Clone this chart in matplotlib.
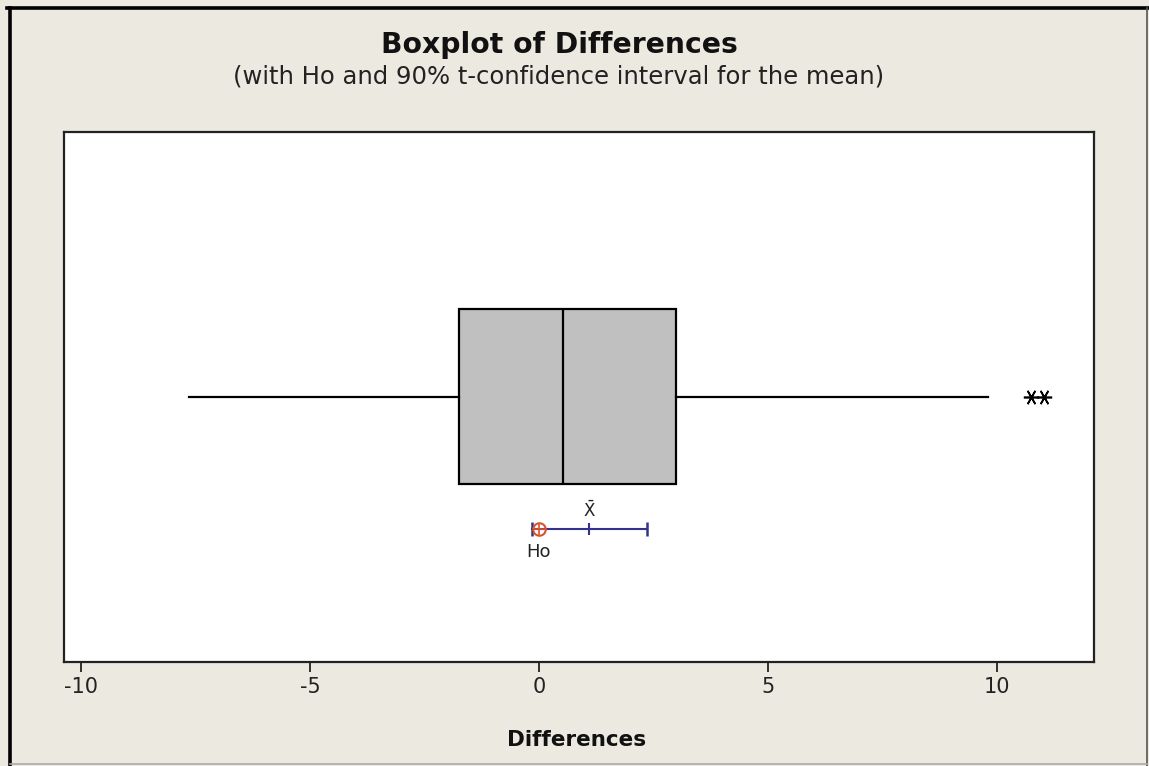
import matplotlib.pyplot as plt
from matplotlib.lines import Line2D

# summary statistics of the paired differences
q1, median, q3 = -1.75, 0.53, 3.0
whisker_low, whisker_high = -7.65, 9.8
outliers = [10.75, 11.02]

# 90% t-confidence interval for the mean, and the null value
mean_diff = 1.10
ci_low, ci_high = -0.15, 2.35
h0 = 0.0

tick_vals = [-10, -5, 0, 5, 10]

plt.rcParams['font.family'] = 'DejaVu Sans'
bg = '#ECE9E0'

fig = plt.figure(figsize=(11.49, 7.66), dpi=100, facecolor=bg)
ax = fig.add_axes([0.0557, 0.1358, 0.8965, 0.692])
ax.set_facecolor('white')

stats = [{
    'med': median, 'q1': q1, 'q3': q3,
    'whislo': whisker_low, 'whishi': whisker_high,
    'fliers': outliers,
}]
ax.bxp(stats, positions=[0.5], widths=0.33, vert=False, patch_artist=True,
       showcaps=False,
       boxprops=dict(facecolor='#C0C0C0', edgecolor='black', linewidth=1.6),
       medianprops=dict(color='black', linewidth=1.6),
       whiskerprops=dict(color='black', linewidth=1.6),
       flierprops=dict(marker=(6, 2, 90), markersize=11, markeredgecolor='black',
                       markeredgewidth=1.2, linestyle='none'))

# confidence interval bar
ci_y = 0.25
navy = '#33338F'
ax.plot([ci_low, ci_high], [ci_y, ci_y], color=navy, linewidth=1.5)
ax.plot([ci_low, ci_high], [ci_y, ci_y], linestyle='none', marker='|',
        markersize=10, markeredgewidth=1.8, color=navy)
ax.plot([mean_diff], [ci_y], marker='|', markersize=8, markeredgewidth=1.5,
        color=navy)
ax.plot([h0], [ci_y], marker='o', markersize=9, markerfacecolor='none',
        markeredgecolor='#D9532B', markeredgewidth=1.5)
ax.plot([h0], [ci_y], marker='+', markersize=9, markeredgewidth=1.2,
        color='#D9532B')
ax.text(mean_diff, ci_y + 0.035, r'$\bar{\mathrm{X}}$', ha='center', va='center',
        fontsize=12, color='#222222')
ax.text(h0, ci_y - 0.043, 'Ho', ha='center', va='center', fontsize=13,
        color='#222222')

ax.set_xlim(-10.37, 12.12)
ax.set_ylim(0, 1)
ax.set_yticks([])
ax.set_xticks(tick_vals)
ax.set_xticklabels([str(v) for v in tick_vals])
ax.tick_params(axis='x', direction='out', length=7, width=1.3, labelsize=15,
               color='#222222', labelcolor='#222222', pad=4)
for side in ['left', 'right', 'top', 'bottom']:
    ax.spines[side].set_linewidth(1.6)
    ax.spines[side].set_color('#222222')

fig.text(0.487, 0.941, 'Boxplot of Differences', ha='center', va='center',
         fontsize=20.3, fontweight='bold', color='#111111')
fig.text(0.486, 0.900, '(with Ho and 90% t-confidence interval for the mean)',
         ha='center', va='center', fontsize=17.5, color='#222222')
fig.text(0.502, 0.034, 'Differences', ha='center', va='center',
         fontsize=15.5, fontweight='bold', color='#111111')

# window frame around the graph
fig.add_artist(Line2D([0.0083, 0.0083], [0.0, 0.989], transform=fig.transFigure,
                      color='black', linewidth=2.6))
fig.add_artist(Line2D([0.0065, 0.999], [0.989, 0.989], transform=fig.transFigure,
                      color='black', linewidth=2.6))
fig.add_artist(Line2D([0.998, 0.998], [0.0, 0.989], transform=fig.transFigure,
                      color='#555555', linewidth=1.2))
fig.add_artist(Line2D([0.0083, 0.998], [0.002, 0.002], transform=fig.transFigure,
                      color='#AAAAAA', linewidth=1.2))

fig.savefig('out.png', dpi=100, facecolor=bg)
